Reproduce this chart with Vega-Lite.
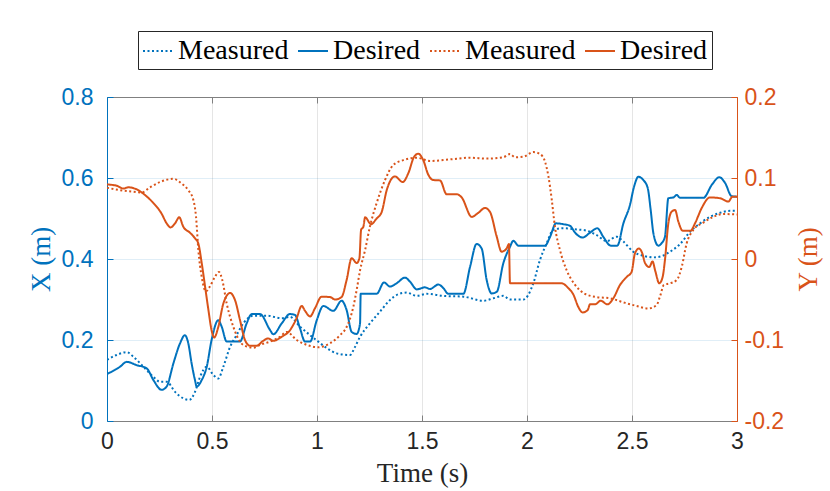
{
  "$schema": "https://vega.github.io/schema/vega-lite/v6.json",
  "width": 630,
  "height": 324,
  "autosize": {"type": "none"},
  "padding": {"left": 107, "top": 97, "right": 93, "bottom": 70},
  "background": "white",
  "data": {
    "values": [
      {"s": "Desired X", "t": 0, "v": 0.116}, {"s": "Desired X", "t": 0.062, "v": 0.134}, {"s": "Desired X", "t": 0.094, "v": 0.146},
      {"s": "Desired X", "t": 0.141, "v": 0.138}, {"s": "Desired X", "t": 0.189, "v": 0.13}, {"s": "Desired X", "t": 0.221, "v": 0.101},
      {"s": "Desired X", "t": 0.26, "v": 0.077}, {"s": "Desired X", "t": 0.284, "v": 0.085}, {"s": "Desired X", "t": 0.316, "v": 0.142},
      {"s": "Desired X", "t": 0.348, "v": 0.192}, {"s": "Desired X", "t": 0.371, "v": 0.212}, {"s": "Desired X", "t": 0.387, "v": 0.192},
      {"s": "Desired X", "t": 0.403, "v": 0.142}, {"s": "Desired X", "t": 0.419, "v": 0.101}, {"s": "Desired X", "t": 0.427, "v": 0.085},
      {"s": "Desired X", "t": 0.451, "v": 0.101}, {"s": "Desired X", "t": 0.475, "v": 0.134}, {"s": "Desired X", "t": 0.498, "v": 0.2},
      {"s": "Desired X", "t": 0.53, "v": 0.249}, {"s": "Desired X", "t": 0.546, "v": 0.233}, {"s": "Desired X", "t": 0.57, "v": 0.196},
      {"s": "Desired X", "t": 0.633, "v": 0.196}, {"s": "Desired X", "t": 0.665, "v": 0.241}, {"s": "Desired X", "t": 0.689, "v": 0.264},
      {"s": "Desired X", "t": 0.729, "v": 0.264}, {"s": "Desired X", "t": 0.776, "v": 0.225}, {"s": "Desired X", "t": 0.792, "v": 0.214},
      {"s": "Desired X", "t": 0.832, "v": 0.241}, {"s": "Desired X", "t": 0.871, "v": 0.264}, {"s": "Desired X", "t": 0.895, "v": 0.262},
      {"s": "Desired X", "t": 0.919, "v": 0.229}, {"s": "Desired X", "t": 0.943, "v": 0.196}, {"s": "Desired X", "t": 0.967, "v": 0.196},
      {"s": "Desired X", "t": 0.999, "v": 0.249}, {"s": "Desired X", "t": 1.03, "v": 0.284}, {"s": "Desired X", "t": 1.078, "v": 0.272},
      {"s": "Desired X", "t": 1.117, "v": 0.297}, {"s": "Desired X", "t": 1.141, "v": 0.274}, {"s": "Desired X", "t": 1.165, "v": 0.22},
      {"s": "Desired X", "t": 1.189, "v": 0.215}, {"s": "Desired X", "t": 1.205, "v": 0.241}, {"s": "Desired X", "t": 1.208, "v": 0.314},
      {"s": "Desired X", "t": 1.284, "v": 0.314}, {"s": "Desired X", "t": 1.319, "v": 0.342}, {"s": "Desired X", "t": 1.348, "v": 0.332},
      {"s": "Desired X", "t": 1.379, "v": 0.34}, {"s": "Desired X", "t": 1.419, "v": 0.354}, {"s": "Desired X", "t": 1.443, "v": 0.344},
      {"s": "Desired X", "t": 1.475, "v": 0.325}, {"s": "Desired X", "t": 1.514, "v": 0.33}, {"s": "Desired X", "t": 1.538, "v": 0.326},
      {"s": "Desired X", "t": 1.578, "v": 0.337}, {"s": "Desired X", "t": 1.602, "v": 0.328}, {"s": "Desired X", "t": 1.625, "v": 0.314},
      {"s": "Desired X", "t": 1.697, "v": 0.314}, {"s": "Desired X", "t": 1.729, "v": 0.381}, {"s": "Desired X", "t": 1.76, "v": 0.437},
      {"s": "Desired X", "t": 1.784, "v": 0.426}, {"s": "Desired X", "t": 1.808, "v": 0.348}, {"s": "Desired X", "t": 1.832, "v": 0.315},
      {"s": "Desired X", "t": 1.856, "v": 0.319}, {"s": "Desired X", "t": 1.887, "v": 0.389}, {"s": "Desired X", "t": 1.919, "v": 0.43},
      {"s": "Desired X", "t": 1.935, "v": 0.445}, {"s": "Desired X", "t": 1.959, "v": 0.433}, {"s": "Desired X", "t": 2.086, "v": 0.433},
      {"s": "Desired X", "t": 2.11, "v": 0.455}, {"s": "Desired X", "t": 2.138, "v": 0.488}, {"s": "Desired X", "t": 2.173, "v": 0.486},
      {"s": "Desired X", "t": 2.205, "v": 0.482}, {"s": "Desired X", "t": 2.229, "v": 0.465}, {"s": "Desired X", "t": 2.265, "v": 0.453},
      {"s": "Desired X", "t": 2.3, "v": 0.465}, {"s": "Desired X", "t": 2.335, "v": 0.476}, {"s": "Desired X", "t": 2.363, "v": 0.455},
      {"s": "Desired X", "t": 2.399, "v": 0.433}, {"s": "Desired X", "t": 2.43, "v": 0.433}, {"s": "Desired X", "t": 2.459, "v": 0.488},
      {"s": "Desired X", "t": 2.49, "v": 0.533}, {"s": "Desired X", "t": 2.51, "v": 0.579}, {"s": "Desired X", "t": 2.53, "v": 0.603},
      {"s": "Desired X", "t": 2.554, "v": 0.595}, {"s": "Desired X", "t": 2.575, "v": 0.575}, {"s": "Desired X", "t": 2.589, "v": 0.521},
      {"s": "Desired X", "t": 2.602, "v": 0.463}, {"s": "Desired X", "t": 2.625, "v": 0.433}, {"s": "Desired X", "t": 2.641, "v": 0.439},
      {"s": "Desired X", "t": 2.657, "v": 0.455}, {"s": "Desired X", "t": 2.673, "v": 0.55}, {"s": "Desired X", "t": 2.697, "v": 0.552},
      {"s": "Desired X", "t": 2.713, "v": 0.558}, {"s": "Desired X", "t": 2.729, "v": 0.551}, {"s": "Desired X", "t": 2.84, "v": 0.551},
      {"s": "Desired X", "t": 2.88, "v": 0.583}, {"s": "Desired X", "t": 2.916, "v": 0.602}, {"s": "Desired X", "t": 2.943, "v": 0.588},
      {"s": "Desired X", "t": 2.975, "v": 0.555}, {"s": "Desired X", "t": 3.0, "v": 0.554},

      {"s": "Measured X", "t": 0, "v": 0.151}, {"s": "Measured X", "t": 0.046, "v": 0.163}, {"s": "Measured X", "t": 0.094, "v": 0.17},
      {"s": "Measured X", "t": 0.125, "v": 0.159}, {"s": "Measured X", "t": 0.173, "v": 0.134}, {"s": "Measured X", "t": 0.221, "v": 0.109},
      {"s": "Measured X", "t": 0.252, "v": 0.097}, {"s": "Measured X", "t": 0.284, "v": 0.097}, {"s": "Measured X", "t": 0.324, "v": 0.072},
      {"s": "Measured X", "t": 0.363, "v": 0.056}, {"s": "Measured X", "t": 0.392, "v": 0.052}, {"s": "Measured X", "t": 0.419, "v": 0.072},
      {"s": "Measured X", "t": 0.443, "v": 0.109}, {"s": "Measured X", "t": 0.475, "v": 0.134}, {"s": "Measured X", "t": 0.506, "v": 0.114},
      {"s": "Measured X", "t": 0.53, "v": 0.105}, {"s": "Measured X", "t": 0.554, "v": 0.134}, {"s": "Measured X", "t": 0.586, "v": 0.183},
      {"s": "Measured X", "t": 0.617, "v": 0.212}, {"s": "Measured X", "t": 0.649, "v": 0.241}, {"s": "Measured X", "t": 0.697, "v": 0.26},
      {"s": "Measured X", "t": 0.76, "v": 0.26}, {"s": "Measured X", "t": 0.832, "v": 0.254}, {"s": "Measured X", "t": 0.871, "v": 0.257},
      {"s": "Measured X", "t": 0.919, "v": 0.233}, {"s": "Measured X", "t": 0.967, "v": 0.212}, {"s": "Measured X", "t": 1.006, "v": 0.196},
      {"s": "Measured X", "t": 1.046, "v": 0.18}, {"s": "Measured X", "t": 1.094, "v": 0.167}, {"s": "Measured X", "t": 1.157, "v": 0.163},
      {"s": "Measured X", "t": 1.181, "v": 0.183}, {"s": "Measured X", "t": 1.205, "v": 0.208}, {"s": "Measured X", "t": 1.252, "v": 0.241},
      {"s": "Measured X", "t": 1.3, "v": 0.27}, {"s": "Measured X", "t": 1.348, "v": 0.299}, {"s": "Measured X", "t": 1.387, "v": 0.313},
      {"s": "Measured X", "t": 1.427, "v": 0.317}, {"s": "Measured X", "t": 1.475, "v": 0.309}, {"s": "Measured X", "t": 1.522, "v": 0.314},
      {"s": "Measured X", "t": 1.602, "v": 0.309}, {"s": "Measured X", "t": 1.697, "v": 0.307}, {"s": "Measured X", "t": 1.792, "v": 0.297},
      {"s": "Measured X", "t": 1.84, "v": 0.303}, {"s": "Measured X", "t": 1.887, "v": 0.309}, {"s": "Measured X", "t": 1.919, "v": 0.3},
      {"s": "Measured X", "t": 1.983, "v": 0.3}, {"s": "Measured X", "t": 2.03, "v": 0.34}, {"s": "Measured X", "t": 2.062, "v": 0.398},
      {"s": "Measured X", "t": 2.094, "v": 0.439}, {"s": "Measured X", "t": 2.125, "v": 0.472}, {"s": "Measured X", "t": 2.173, "v": 0.476},
      {"s": "Measured X", "t": 2.237, "v": 0.473}, {"s": "Measured X", "t": 2.284, "v": 0.47}, {"s": "Measured X", "t": 2.332, "v": 0.459},
      {"s": "Measured X", "t": 2.379, "v": 0.444}, {"s": "Measured X", "t": 2.427, "v": 0.455}, {"s": "Measured X", "t": 2.459, "v": 0.443},
      {"s": "Measured X", "t": 2.506, "v": 0.418}, {"s": "Measured X", "t": 2.554, "v": 0.408}, {"s": "Measured X", "t": 2.602, "v": 0.404},
      {"s": "Measured X", "t": 2.641, "v": 0.407}, {"s": "Measured X", "t": 2.681, "v": 0.418}, {"s": "Measured X", "t": 2.729, "v": 0.437},
      {"s": "Measured X", "t": 2.776, "v": 0.467}, {"s": "Measured X", "t": 2.824, "v": 0.488}, {"s": "Measured X", "t": 2.871, "v": 0.504},
      {"s": "Measured X", "t": 2.919, "v": 0.514}, {"s": "Measured X", "t": 2.967, "v": 0.519}, {"s": "Measured X", "t": 3.0, "v": 0.519},

      {"s": "Desired Y", "t": 0, "v": 0.092}, {"s": "Desired Y", "t": 0.046, "v": 0.0905}, {"s": "Desired Y", "t": 0.078, "v": 0.087},
      {"s": "Desired Y", "t": 0.101, "v": 0.0885}, {"s": "Desired Y", "t": 0.141, "v": 0.086}, {"s": "Desired Y", "t": 0.181, "v": 0.079},
      {"s": "Desired Y", "t": 0.221, "v": 0.069}, {"s": "Desired Y", "t": 0.26, "v": 0.056}, {"s": "Desired Y", "t": 0.284, "v": 0.044},
      {"s": "Desired Y", "t": 0.303, "v": 0.039}, {"s": "Desired Y", "t": 0.324, "v": 0.044}, {"s": "Desired Y", "t": 0.344, "v": 0.0515},
      {"s": "Desired Y", "t": 0.363, "v": 0.04}, {"s": "Desired Y", "t": 0.395, "v": 0.0325}, {"s": "Desired Y", "t": 0.419, "v": 0.0256},
      {"s": "Desired Y", "t": 0.435, "v": 0.019}, {"s": "Desired Y", "t": 0.451, "v": -0.005}, {"s": "Desired Y", "t": 0.467, "v": -0.034},
      {"s": "Desired Y", "t": 0.483, "v": -0.063}, {"s": "Desired Y", "t": 0.498, "v": -0.088}, {"s": "Desired Y", "t": 0.51, "v": -0.097},
      {"s": "Desired Y", "t": 0.53, "v": -0.084}, {"s": "Desired Y", "t": 0.554, "v": -0.055}, {"s": "Desired Y", "t": 0.586, "v": -0.042},
      {"s": "Desired Y", "t": 0.61, "v": -0.051}, {"s": "Desired Y", "t": 0.633, "v": -0.075}, {"s": "Desired Y", "t": 0.657, "v": -0.1},
      {"s": "Desired Y", "t": 0.681, "v": -0.107}, {"s": "Desired Y", "t": 0.713, "v": -0.107}, {"s": "Desired Y", "t": 0.744, "v": -0.101},
      {"s": "Desired Y", "t": 0.768, "v": -0.098}, {"s": "Desired Y", "t": 0.792, "v": -0.101}, {"s": "Desired Y", "t": 0.832, "v": -0.096},
      {"s": "Desired Y", "t": 0.871, "v": -0.088}, {"s": "Desired Y", "t": 0.903, "v": -0.073}, {"s": "Desired Y", "t": 0.927, "v": -0.058},
      {"s": "Desired Y", "t": 0.943, "v": -0.064}, {"s": "Desired Y", "t": 0.967, "v": -0.071}, {"s": "Desired Y", "t": 0.99, "v": -0.061},
      {"s": "Desired Y", "t": 1.022, "v": -0.0465}, {"s": "Desired Y", "t": 1.062, "v": -0.047}, {"s": "Desired Y", "t": 1.086, "v": -0.05},
      {"s": "Desired Y", "t": 1.117, "v": -0.047}, {"s": "Desired Y", "t": 1.141, "v": -0.026}, {"s": "Desired Y", "t": 1.165, "v": 0.001},
      {"s": "Desired Y", "t": 1.189, "v": -0.005}, {"s": "Desired Y", "t": 1.202, "v": 0.001}, {"s": "Desired Y", "t": 1.21, "v": 0.036},
      {"s": "Desired Y", "t": 1.221, "v": 0.04}, {"s": "Desired Y", "t": 1.229, "v": 0.0515}, {"s": "Desired Y", "t": 1.257, "v": 0.043},
      {"s": "Desired Y", "t": 1.284, "v": 0.05}, {"s": "Desired Y", "t": 1.308, "v": 0.058}, {"s": "Desired Y", "t": 1.332, "v": 0.085},
      {"s": "Desired Y", "t": 1.371, "v": 0.102}, {"s": "Desired Y", "t": 1.408, "v": 0.095}, {"s": "Desired Y", "t": 1.435, "v": 0.106},
      {"s": "Desired Y", "t": 1.462, "v": 0.126}, {"s": "Desired Y", "t": 1.482, "v": 0.13}, {"s": "Desired Y", "t": 1.506, "v": 0.122},
      {"s": "Desired Y", "t": 1.53, "v": 0.104}, {"s": "Desired Y", "t": 1.554, "v": 0.0975}, {"s": "Desired Y", "t": 1.586, "v": 0.097},
      {"s": "Desired Y", "t": 1.617, "v": 0.08}, {"s": "Desired Y", "t": 1.665, "v": 0.08}, {"s": "Desired Y", "t": 1.689, "v": 0.076},
      {"s": "Desired Y", "t": 1.737, "v": 0.052}, {"s": "Desired Y", "t": 1.768, "v": 0.057}, {"s": "Desired Y", "t": 1.8, "v": 0.063},
      {"s": "Desired Y", "t": 1.824, "v": 0.058}, {"s": "Desired Y", "t": 1.856, "v": 0.0275}, {"s": "Desired Y", "t": 1.879, "v": 0.009},
      {"s": "Desired Y", "t": 1.903, "v": 0.013}, {"s": "Desired Y", "t": 1.914, "v": 0.0185}, {"s": "Desired Y", "t": 1.919, "v": -0.03},
      {"s": "Desired Y", "t": 2.165, "v": -0.03}, {"s": "Desired Y", "t": 2.197, "v": -0.036}, {"s": "Desired Y", "t": 2.221, "v": -0.044},
      {"s": "Desired Y", "t": 2.244, "v": -0.059}, {"s": "Desired Y", "t": 2.265, "v": -0.066}, {"s": "Desired Y", "t": 2.289, "v": -0.063},
      {"s": "Desired Y", "t": 2.3, "v": -0.056}, {"s": "Desired Y", "t": 2.324, "v": -0.056}, {"s": "Desired Y", "t": 2.351, "v": -0.0515},
      {"s": "Desired Y", "t": 2.383, "v": -0.056}, {"s": "Desired Y", "t": 2.411, "v": -0.0485}, {"s": "Desired Y", "t": 2.443, "v": -0.032},
      {"s": "Desired Y", "t": 2.475, "v": -0.022}, {"s": "Desired Y", "t": 2.498, "v": -0.016}, {"s": "Desired Y", "t": 2.514, "v": 0.007},
      {"s": "Desired Y", "t": 2.533, "v": 0.013}, {"s": "Desired Y", "t": 2.549, "v": 0.007}, {"s": "Desired Y", "t": 2.562, "v": -0.005},
      {"s": "Desired Y", "t": 2.582, "v": -0.01}, {"s": "Desired Y", "t": 2.598, "v": -0.003}, {"s": "Desired Y", "t": 2.61, "v": -0.014},
      {"s": "Desired Y", "t": 2.63, "v": -0.03}, {"s": "Desired Y", "t": 2.646, "v": -0.022}, {"s": "Desired Y", "t": 2.657, "v": -0.001},
      {"s": "Desired Y", "t": 2.673, "v": 0.044}, {"s": "Desired Y", "t": 2.689, "v": 0.0585}, {"s": "Desired Y", "t": 2.705, "v": 0.0605},
      {"s": "Desired Y", "t": 2.721, "v": 0.046}, {"s": "Desired Y", "t": 2.741, "v": 0.035}, {"s": "Desired Y", "t": 2.779, "v": 0.035},
      {"s": "Desired Y", "t": 2.8, "v": 0.044}, {"s": "Desired Y", "t": 2.832, "v": 0.063}, {"s": "Desired Y", "t": 2.871, "v": 0.076},
      {"s": "Desired Y", "t": 2.919, "v": 0.075}, {"s": "Desired Y", "t": 2.959, "v": 0.071}, {"s": "Desired Y", "t": 2.979, "v": 0.077},
      {"s": "Desired Y", "t": 3.0, "v": 0.077},

      {"s": "Measured Y", "t": 0, "v": 0.088}, {"s": "Measured Y", "t": 0.062, "v": 0.085}, {"s": "Measured Y", "t": 0.125, "v": 0.083},
      {"s": "Measured Y", "t": 0.165, "v": 0.082}, {"s": "Measured Y", "t": 0.205, "v": 0.0885}, {"s": "Measured Y", "t": 0.252, "v": 0.095},
      {"s": "Measured Y", "t": 0.316, "v": 0.099}, {"s": "Measured Y", "t": 0.356, "v": 0.093}, {"s": "Measured Y", "t": 0.387, "v": 0.085},
      {"s": "Measured Y", "t": 0.411, "v": 0.073}, {"s": "Measured Y", "t": 0.424, "v": 0.052}, {"s": "Measured Y", "t": 0.435, "v": 0.011},
      {"s": "Measured Y", "t": 0.451, "v": -0.022}, {"s": "Measured Y", "t": 0.471, "v": -0.04}, {"s": "Measured Y", "t": 0.49, "v": -0.034},
      {"s": "Measured Y", "t": 0.514, "v": -0.022}, {"s": "Measured Y", "t": 0.533, "v": -0.016}, {"s": "Measured Y", "t": 0.549, "v": -0.026},
      {"s": "Measured Y", "t": 0.57, "v": -0.055}, {"s": "Measured Y", "t": 0.602, "v": -0.084}, {"s": "Measured Y", "t": 0.633, "v": -0.102},
      {"s": "Measured Y", "t": 0.665, "v": -0.108}, {"s": "Measured Y", "t": 0.697, "v": -0.1095}, {"s": "Measured Y", "t": 0.729, "v": -0.106},
      {"s": "Measured Y", "t": 0.776, "v": -0.102}, {"s": "Measured Y", "t": 0.824, "v": -0.096}, {"s": "Measured Y", "t": 0.856, "v": -0.09},
      {"s": "Measured Y", "t": 0.903, "v": -0.1}, {"s": "Measured Y", "t": 0.951, "v": -0.106}, {"s": "Measured Y", "t": 1.006, "v": -0.109},
      {"s": "Measured Y", "t": 1.062, "v": -0.104}, {"s": "Measured Y", "t": 1.11, "v": -0.094}, {"s": "Measured Y", "t": 1.141, "v": -0.084},
      {"s": "Measured Y", "t": 1.173, "v": -0.059}, {"s": "Measured Y", "t": 1.189, "v": -0.038}, {"s": "Measured Y", "t": 1.205, "v": -0.014},
      {"s": "Measured Y", "t": 1.229, "v": 0.011}, {"s": "Measured Y", "t": 1.252, "v": 0.04}, {"s": "Measured Y", "t": 1.284, "v": 0.069},
      {"s": "Measured Y", "t": 1.324, "v": 0.0975}, {"s": "Measured Y", "t": 1.363, "v": 0.116}, {"s": "Measured Y", "t": 1.411, "v": 0.122},
      {"s": "Measured Y", "t": 1.475, "v": 0.125}, {"s": "Measured Y", "t": 1.538, "v": 0.121}, {"s": "Measured Y", "t": 1.633, "v": 0.123},
      {"s": "Measured Y", "t": 1.729, "v": 0.125}, {"s": "Measured Y", "t": 1.808, "v": 0.124}, {"s": "Measured Y", "t": 1.887, "v": 0.1256},
      {"s": "Measured Y", "t": 1.919, "v": 0.1296}, {"s": "Measured Y", "t": 1.943, "v": 0.1256}, {"s": "Measured Y", "t": 1.983, "v": 0.1263},
      {"s": "Measured Y", "t": 2.03, "v": 0.132}, {"s": "Measured Y", "t": 2.062, "v": 0.1296}, {"s": "Measured Y", "t": 2.086, "v": 0.12},
      {"s": "Measured Y", "t": 2.102, "v": 0.102}, {"s": "Measured Y", "t": 2.118, "v": 0.073}, {"s": "Measured Y", "t": 2.133, "v": 0.04},
      {"s": "Measured Y", "t": 2.157, "v": 0.011}, {"s": "Measured Y", "t": 2.189, "v": -0.014}, {"s": "Measured Y", "t": 2.229, "v": -0.032},
      {"s": "Measured Y", "t": 2.276, "v": -0.043}, {"s": "Measured Y", "t": 2.332, "v": -0.047}, {"s": "Measured Y", "t": 2.395, "v": -0.0485},
      {"s": "Measured Y", "t": 2.459, "v": -0.0535}, {"s": "Measured Y", "t": 2.522, "v": -0.058}, {"s": "Measured Y", "t": 2.578, "v": -0.061},
      {"s": "Measured Y", "t": 2.617, "v": -0.057}, {"s": "Measured Y", "t": 2.633, "v": -0.0465}, {"s": "Measured Y", "t": 2.652, "v": -0.032},
      {"s": "Measured Y", "t": 2.681, "v": -0.03}, {"s": "Measured Y", "t": 2.713, "v": -0.026}, {"s": "Measured Y", "t": 2.737, "v": -0.0095},
      {"s": "Measured Y", "t": 2.76, "v": 0.019}, {"s": "Measured Y", "t": 2.792, "v": 0.036}, {"s": "Measured Y", "t": 2.84, "v": 0.045},
      {"s": "Measured Y", "t": 2.887, "v": 0.052}, {"s": "Measured Y", "t": 2.935, "v": 0.0555}, {"s": "Measured Y", "t": 3.0, "v": 0.055}
    ]
  },
  "layer": [
    {
      "transform": [{"filter": {"field": "s", "oneOf": ["Measured X", "Desired X"]}}],
      "mark": {"type": "line", "strokeWidth": 2, "clip": true, "interpolate": "monotone"},
      "encoding": {
        "x": {
          "field": "t",
          "type": "quantitative",
          "scale": {"domain": [0, 3], "nice": false},
          "axis": {
            "orient": "bottom",
            "title": "Time (s)",
            "values": [0, 0.5, 1, 1.5, 2, 2.5, 3],
            "format": "~g",
            "grid": true,
            "gridColor": "#262626",
            "gridOpacity": 0.12,
            "domainColor": "#808080",
            "tickColor": "#808080",
            "labelColor": "#262626",
            "titleColor": "#262626",
            "labelPadding": 15,
            "titlePadding": 7
          }
        },
        "y": {
          "field": "v",
          "type": "quantitative",
          "scale": {"domain": [0, 0.8], "nice": false, "zero": false},
          "axis": {
            "orient": "left",
            "title": "X (m)",
            "values": [0, 0.2, 0.4, 0.6, 0.8],
            "format": ".1~f",
            "grid": true,
            "gridColor": "#0072BD",
            "gridOpacity": 0.12,
            "domainColor": "#0072BD",
            "tickColor": "#0072BD",
            "labelColor": "#0072BD",
            "titleColor": "#0072BD",
            "labelPadding": 20,
            "titlePadding": 6
          }
        },
        "color": {
          "field": "s",
          "type": "nominal",
          "scale": {
            "domain": ["Measured X", "Desired X", "Measured Y", "Desired Y"],
            "range": ["#0072BD", "#0072BD", "#D95319", "#D95319"]
          },
          "legend": {
            "orient": "none",
            "legendX": 31,
            "legendY": -66,
            "direction": "horizontal",
            "title": null,
            "labelExpr": "split(datum.label, ' ')[0]"
          }
        },
        "strokeDash": {
          "field": "s",
          "type": "nominal",
          "scale": {
            "domain": ["Measured X", "Desired X", "Measured Y", "Desired Y"],
            "range": [[2, 2.5], [1, 0], [2, 2.5], [1, 0]]
          },
          "legend": {
            "orient": "none",
            "legendX": 31,
            "legendY": -66,
            "direction": "horizontal",
            "title": null,
            "labelExpr": "split(datum.label, ' ')[0]"
          }
        }
      }
    },
    {
      "transform": [{"filter": {"field": "s", "oneOf": ["Measured Y", "Desired Y"]}}],
      "mark": {"type": "line", "strokeWidth": 2, "clip": true, "interpolate": "monotone"},
      "encoding": {
        "x": {
          "field": "t",
          "type": "quantitative",
          "scale": {"domain": [0, 3], "nice": false},
          "axis": {
            "orient": "top",
            "title": null,
            "labels": false,
            "values": [0, 0.5, 1, 1.5, 2, 2.5, 3],
            "grid": false,
            "domainColor": "#808080",
            "tickColor": "#808080"
          }
        },
        "y": {
          "field": "v",
          "type": "quantitative",
          "scale": {"domain": [-0.2, 0.2], "nice": false, "zero": false},
          "axis": {
            "orient": "right",
            "title": "Y (m)",
            "titleAngle": 270,
            "titleBaseline": "top",
            "values": [-0.2, -0.1, 0, 0.1, 0.2],
            "labelExpr": "datum.value == 0 ? '0' : (datum.value < 0 ? '-' + format(-datum.value, '.1f') : format(datum.value, '.1f'))",
            "grid": false,
            "domainColor": "#D95319",
            "tickColor": "#D95319",
            "labelColor": "#D95319",
            "titleColor": "#D95319",
            "labelPadding": 13,
            "titlePadding": 12
          }
        },
        "color": {
          "field": "s",
          "type": "nominal",
          "scale": {
            "domain": ["Measured X", "Desired X", "Measured Y", "Desired Y"],
            "range": ["#0072BD", "#0072BD", "#D95319", "#D95319"]
          },
          "legend": {
            "orient": "none",
            "legendX": 31,
            "legendY": -66,
            "direction": "horizontal",
            "title": null,
            "labelExpr": "split(datum.label, ' ')[0]"
          }
        },
        "strokeDash": {
          "field": "s",
          "type": "nominal",
          "scale": {
            "domain": ["Measured X", "Desired X", "Measured Y", "Desired Y"],
            "range": [[2, 2.5], [1, 0], [2, 2.5], [1, 0]]
          },
          "legend": {
            "orient": "none",
            "legendX": 31,
            "legendY": -66,
            "direction": "horizontal",
            "title": null,
            "labelExpr": "split(datum.label, ' ')[0]"
          }
        }
      }
    }
  ],
  "resolve": {
    "scale": {"y": "independent"},
    "axis": {"x": "independent", "y": "independent"}
  },
  "config": {
    "view": {"stroke": null},
    "axis": {
      "labelFont": "Liberation Sans",
      "labelFontSize": 23,
      "titleFont": "Liberation Serif",
      "titleFontSize": 27,
      "titleFontWeight": "normal",
      "tickSize": -6,
      "tickWidth": 1,
      "domainWidth": 1,
      "gridWidth": 1,
      "labelFlush": false,
      "labelOverlap": false
    },
    "legend": {
      "labelFont": "Liberation Serif",
      "labelFontSize": 28,
      "labelColor": "#000000",
      "labelOffset": 4,
      "columnPadding": 5,
      "symbolType": "stroke",
      "symbolSize": 900,
      "symbolStrokeWidth": 2,
      "strokeColor": "#262626",
      "fillColor": "#ffffff",
      "padding": 4,
      "cornerRadius": 0
    }
  }
}
